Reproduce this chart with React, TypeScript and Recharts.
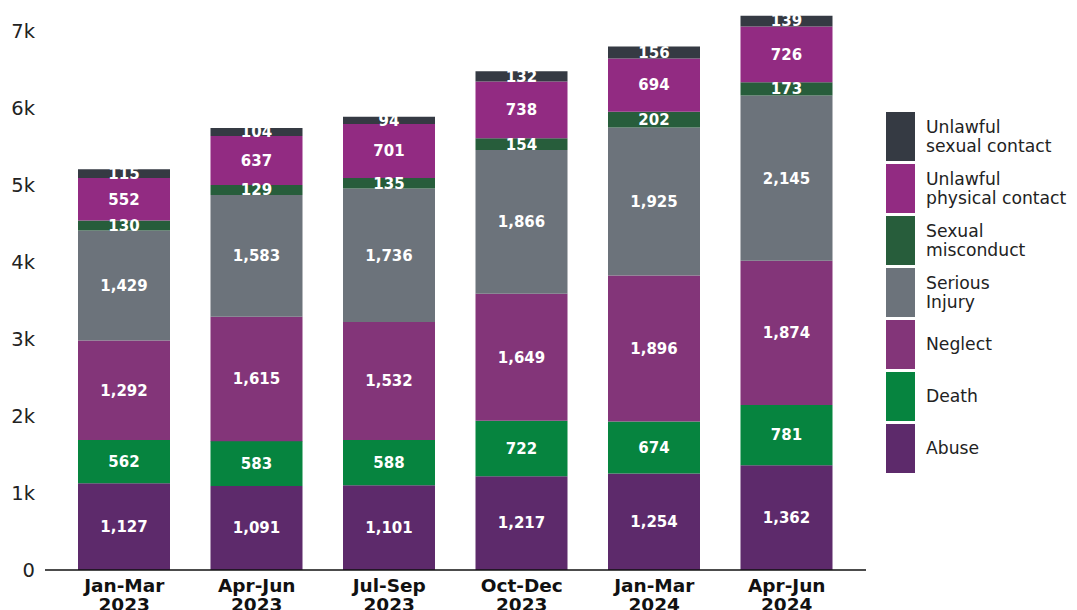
import React from 'react';
import { BarChart, Bar, XAxis, YAxis, LabelList } from 'recharts';

const categories = ['Jan-Mar 2023', 'Apr-Jun 2023', 'Jul-Sep 2023', 'Oct-Dec 2023', 'Jan-Mar 2024', 'Apr-Jun 2024'];
const abuse = [1127, 1091, 1101, 1217, 1254, 1362];
const death = [562, 583, 588, 722, 674, 781];
const neglect = [1292, 1615, 1532, 1649, 1896, 1874];
const seriousInjury = [1429, 1583, 1736, 1866, 1925, 2145];
const sexualMisconduct = [130, 129, 135, 154, 202, 173];
const unlawfulPhysical = [552, 637, 701, 738, 694, 726];
const unlawfulSexual = [115, 104, 94, 132, 156, 139];
const yTicks = [0, 1000, 2000, 3000, 4000, 5000, 6000, 7000];

const series = [
  { key: 'abuse', name: 'Abuse', values: abuse, color: '#5d2a6b' },
  { key: 'death', name: 'Death', values: death, color: '#06843f' },
  { key: 'neglect', name: 'Neglect', values: neglect, color: '#833579' },
  { key: 'serious', name: 'Serious\nInjury', values: seriousInjury, color: '#6c737b' },
  { key: 'sexMis', name: 'Sexual\nmisconduct', values: sexualMisconduct, color: '#275d3b' },
  { key: 'physical', name: 'Unlawful\nphysical contact', values: unlawfulPhysical, color: '#922b82' },
  { key: 'sexual', name: 'Unlawful\nsexual contact', values: unlawfulSexual, color: '#353a43' },
];

const data = categories.map((c, i) => {
  const row: any = { category: c };
  series.forEach((s) => { row[s.key] = s.values[i]; });
  return row;
});

const FONT = 'DejaVu Sans, sans-serif';

const XTick = (props: any) => {
  const { x, y, payload } = props;
  const [a, b] = String(payload.value).split(' ');
  return (
    <text x={x} y={y} textAnchor="middle" fontWeight="bold" fontSize={18.5} fill="#111" fontFamily={FONT}>
      <tspan x={x} dy={20}>{a}</tspan>
      <tspan x={x} dy={19}>{b}</tspan>
    </text>
  );
};

const fmtK = (v: number) => (v === 0 ? '0' : `${v / 1000}k`);

const LegendBox = () => (
  <div style={{ position: 'absolute', left: 878, top: 104, width: 191, fontFamily: FONT, fontSize: 17.2, color: '#222' }}>
    {[...series].reverse().map((s) => (
      <div key={s.key} style={{ display: 'flex', alignItems: 'center', height: 49, marginBottom: 3 }}>
        <div style={{ width: 29, height: 49, background: s.color, marginRight: 11, flexShrink: 0 }} />
        <div style={{ lineHeight: '19px', whiteSpace: 'pre' }}>{s.name}</div>
      </div>
    ))}
  </div>
);

export default function App() {
  return (
    <div style={{ position: 'relative', width: 1069, height: 602 }}>
      <BarChart
        width={1069}
        height={610}
        data={data}
        margin={{ top: 0, right: 211, bottom: 0, left: 0 }}
        barSize={92}
      >
        <XAxis
          dataKey="category"
          tick={<XTick />}
          tickLine={false}
          tickSize={0}
          height={48}
          padding={{ left: 13, right: 13 }}
          axisLine={{ stroke: '#111', strokeWidth: 1.6 }}
          interval={0}
        />
        <YAxis
          domain={[0, 7300]}
          ticks={yTicks}
          interval={0}
          tickFormatter={fmtK}
          axisLine={false}
          tickLine={false}
          tickSize={0}
          tickMargin={10}
          width={37}
          tick={{ fontSize: 19.5, fill: '#222', fontFamily: FONT }}
        />
        {series.map((s) => (
          <Bar key={s.key} dataKey={s.key} name={s.name} stackId="a" fill={s.color} isAnimationActive={false}>
            <LabelList
              dataKey={s.key}
              position="center"
              formatter={(v: any) => Number(v).toLocaleString('en-US')}
              fill="#fff"
              fontWeight="bold"
              fontSize={15}
              fontFamily={FONT}
            />
          </Bar>
        ))}
      </BarChart>
      <LegendBox />
    </div>
  );
}
